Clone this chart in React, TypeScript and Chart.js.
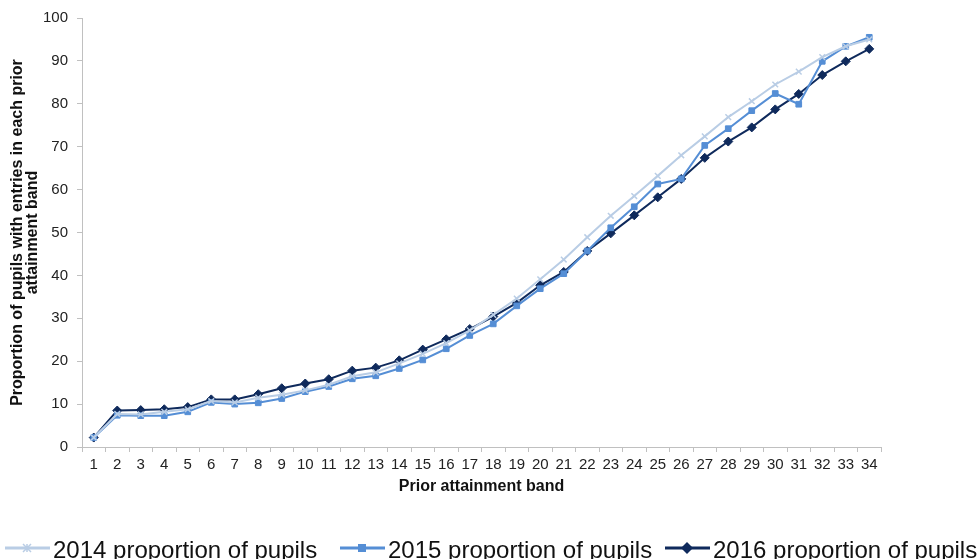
import { useEffect, useRef } from "react";
import { Chart, registerables } from "chart.js";

Chart.register(...registerables);

const bands = [
  "1", "2", "3", "4", "5", "6", "7", "8", "9", "10", "11", "12", "13", "14", "15", "16", "17",
  "18", "19", "20", "21", "22", "23", "24", "25", "26", "27", "28", "29", "30", "31", "32", "33", "34",
];

const pupils2014 = [
  2.2, 7.7, 7.6, 8.2, 8.8, 10.7, 10.4, 11.5, 12.2, 13.2, 14.5, 16.5, 17.4, 19.5, 21.7, 24.2, 27.2,
  30.8, 34.6, 39.1, 43.7, 48.9, 53.9, 58.5, 63.2, 68.0, 72.4, 76.9, 80.6, 84.5, 87.5, 90.9, 93.4, 95.0,
];

const pupils2015 = [
  2.2, 7.4, 7.3, 7.3, 8.2, 10.4, 10.0, 10.3, 11.3, 12.9, 14.1, 15.9, 16.6, 18.3, 20.3, 22.9, 26.0,
  28.7, 32.9, 36.9, 40.4, 45.7, 51.1, 56.0, 61.3, 62.5, 70.3, 74.2, 78.4, 82.4, 79.9, 89.9, 93.4, 95.5,
];

const pupils2016 = [
  2.2, 8.5, 8.6, 8.8, 9.3, 11.1, 11.1, 12.3, 13.7, 14.8, 15.8, 17.8, 18.5, 20.2, 22.7, 25.1, 27.5,
  30.4, 33.6, 37.7, 40.8, 45.7, 49.8, 54.0, 58.2, 62.5, 67.4, 71.2, 74.5, 78.7, 82.3, 86.7, 89.9, 92.8,
];

const yTicks = [0, 10, 20, 30, 40, 50, 60, 70, 80, 90, 100];

const seriesNames = [
  "2014 proportion of pupils",
  "2015 proportion of pupils",
  "2016 proportion of pupils",
];
const seriesColors = ["#b9cde5", "#558ed5", "#0f2a5c"];
const seriesMarkers = ["crossRot", "rect", "rectRot"];
const legendX = [5, 340, 665];

const axisColor = "#c0c0c0";
const fontFamily = "'Liberation Sans', Arial, sans-serif";

function drawMarker(c: CanvasRenderingContext2D, style: string, x: number, y: number) {
  c.beginPath();
  if (style === "crossRot") {
    const r = 4;
    c.lineWidth = 1.5;
    c.moveTo(x - r, y - r);
    c.lineTo(x + r, y + r);
    c.moveTo(x + r, y - r);
    c.lineTo(x - r, y + r);
    c.moveTo(x, y - r);
    c.lineTo(x, y + r);
    c.stroke();
  } else if (style === "rect") {
    const r = 4;
    c.fillRect(x - r, y - r, 2 * r, 2 * r);
  } else {
    const r = 6;
    c.moveTo(x, y - r);
    c.lineTo(x + r, y);
    c.lineTo(x, y + r);
    c.lineTo(x - r, y);
    c.closePath();
    c.fill();
  }
}

// legend along the bottom: a short line with the series marker, then the name
const bottomLegend = {
  id: "bottomLegend",
  afterDraw(chart: Chart) {
    const c = chart.ctx;
    const y = 548;
    c.save();
    seriesNames.forEach((name, i) => {
      const x0 = legendX[i];
      c.strokeStyle = seriesColors[i];
      c.fillStyle = seriesColors[i];
      c.lineWidth = 3;
      c.beginPath();
      c.moveTo(x0, y);
      c.lineTo(x0 + 45, y);
      c.stroke();
      drawMarker(c, seriesMarkers[i], x0 + 22, y);
      c.fillStyle = "#111";
      c.font = `24px ${fontFamily}`;
      c.textBaseline = "alphabetic";
      c.textAlign = "left";
      c.fillText(name, x0 + 48, 558);
    });
    c.restore();
  },
};

export default function App() {
  const canvasRef = useRef<HTMLCanvasElement>(null);
  const chartRef = useRef<Chart | null>(null);

  useEffect(() => {
    const ctx = canvasRef.current?.getContext("2d");
    if (!ctx) return;

    const all = [pupils2014, pupils2015, pupils2016];

    chartRef.current?.destroy();
    chartRef.current = new Chart(ctx, {
      type: "line",
      data: {
        labels: bands,
        datasets: all.map((values, i) => ({
          label: seriesNames[i],
          data: values,
          borderColor: seriesColors[i],
          backgroundColor: seriesColors[i],
          pointBorderColor: seriesColors[i],
          pointBackgroundColor: seriesColors[i],
          borderWidth: 2,
          pointStyle: seriesMarkers[i] as any,
          pointRadius: seriesMarkers[i] === "rectRot" ? 4.5 : 4,
          pointBorderWidth: seriesMarkers[i] === "crossRot" ? 1.5 : 1,
          tension: 0,
          fill: false,
        })),
      },
      options: {
        responsive: false,
        animation: false,
        devicePixelRatio: 1,
        layout: { padding: { top: 12, right: 96, bottom: 63, left: 10 } },
        plugins: {
          legend: { display: false },
          tooltip: { enabled: false },
        },
        scales: {
          x: {
            type: "category",
            offset: true,
            grid: {
              offset: true,
              drawOnChartArea: false,
              tickLength: 5,
              color: axisColor,
            },
            border: { color: axisColor, width: 1 },
            ticks: {
              color: "#222",
              font: { family: fontFamily, size: 15 },
              padding: 4,
              maxRotation: 0,
              autoSkip: false,
            },
            title: {
              display: true,
              text: "Prior attainment band",
              color: "#111",
              font: { family: fontFamily, size: 16, weight: "bold" },
              padding: { top: 0, bottom: 0 },
            },
            afterFit: (scale: any) => {
              scale.height = 49;
            },
          },
          y: {
            min: 0,
            max: 100,
            afterBuildTicks: (scale: any) => {
              scale.ticks = yTicks.map((v) => ({ value: v }));
            },
            grid: {
              drawOnChartArea: false,
              tickLength: 5,
              color: axisColor,
            },
            border: { color: axisColor, width: 1 },
            ticks: {
              color: "#222",
              font: { family: fontFamily, size: 15 },
              padding: 9,
            },
            title: {
              display: true,
              text: ["Proportion of pupils with entries in each prior", "attainment band"],
              color: "#111",
              font: { family: fontFamily, size: 16, weight: "bold", lineHeight: 0.95 },
              padding: { top: 0, bottom: 2 },
            },
            afterFit: (scale: any) => {
              scale.width = 72;
            },
          },
        },
      },
      plugins: [bottomLegend],
    });

    return () => {
      chartRef.current?.destroy();
      chartRef.current = null;
    };
  }, []);

  return (
    <div style={{ position: "absolute", left: 0, top: 0, width: 977, height: 559, background: "#fff" }}>
      <canvas ref={canvasRef} width={977} height={559} style={{ width: 977, height: 559 }} />
    </div>
  );
}
